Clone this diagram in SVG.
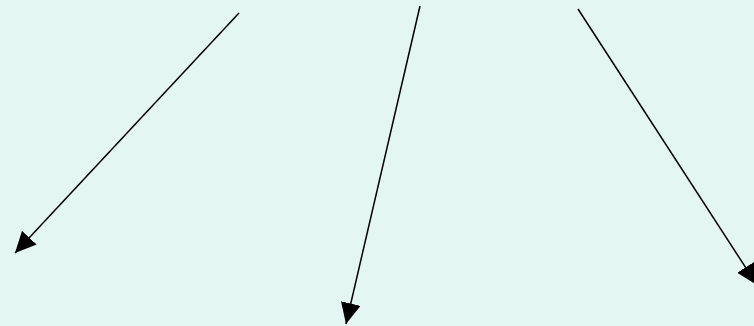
<svg xmlns="http://www.w3.org/2000/svg" width="754" height="326" viewBox="0 0 754 326">
  <style>
    .edge { stroke: #000; stroke-width: 1.5; fill: none; marker-end: url(#arrow); }
  </style>
  <defs>
    <marker id="arrow" markerUnits="userSpaceOnUse" markerWidth="22" markerHeight="20" refX="21" refY="10" orient="auto" viewBox="0 0 22 20">
      <path d="M0,0 L21,10 L0,20 z" fill="#000"/>
    </marker>
  </defs>
  <rect width="754" height="326" fill="#e3f6f2"/>
  <g id="connectors">
    <line class="edge" x1="239" y1="13" x2="15" y2="253"/>
    <line class="edge" x1="420" y1="6" x2="346" y2="324"/>
    <line class="edge" x1="578" y1="9" x2="757" y2="285"/>
  </g>
</svg>
